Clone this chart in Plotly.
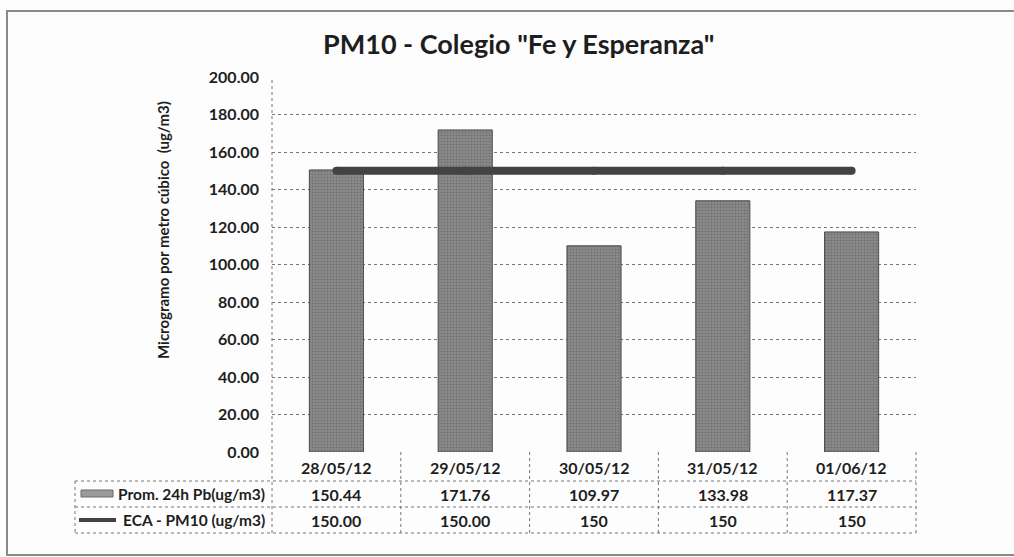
import plotly.graph_objects as go

# ---- data ----
dates = ["28/05/12", "29/05/12", "30/05/12", "31/05/12", "01/06/12"]
prom_24h = [150.44, 171.76, 109.97, 133.98, 117.37]
prom_labels = ["150.44", "171.76", "109.97", "133.98", "117.37"]
eca_pm10 = [150, 150, 150, 150, 150]
eca_labels = ["150.00", "150.00", "150", "150", "150"]
row_names = ["Prom. 24h Pb(ug/m3)", "ECA - PM10 (ug/m3)"]
y_ticks = [0, 20, 40, 60, 80, 100, 120, 140, 160, 180, 200]

# ---- layout geometry (pixels) ----
WIDTH, HEIGHT = 1014, 557
L, R, T, B = 272, 916, 77, 452
PW, PH = R - L, B - T


def px2x(px):
    return (px - L) / PW


def py2y(py):
    return (B - py) / PH


FONT = "Lato, 'Open Sans', sans-serif"
TXT = "#1e1e1e"
GRID = "#767676"

fig = go.Figure()

fig.add_trace(go.Bar(
    x=dates, y=prom_24h, name=row_names[0],
    marker=dict(color="#7a7a7a", line=dict(color="#4a4a4a", width=1),
                pattern=dict(shape=".", fgcolor="#555555", bgcolor="#8a8a8a",
                             size=3, solidity=0.35)),
    showlegend=False, hoverinfo="skip",
))
fig.add_trace(go.Scatter(
    x=dates, y=eca_pm10, name=row_names[1], mode="lines+markers",
    line=dict(color="#434343", width=8),
    marker=dict(color="#434343", size=8, line=dict(width=0)),
    showlegend=False, hoverinfo="skip",
))

shapes = []
ann = []

# outer frame
shapes.append(dict(type="rect", xref="paper", yref="paper",
                   x0=px2x(7), x1=px2x(1020), y0=py2y(555), y1=py2y(11),
                   line=dict(color="#8a8a8a", width=2), layer="below"))
# left axis line (dotted)
shapes.append(dict(type="line", xref="paper", yref="paper",
                   x0=0, x1=0, y0=py2y(533), y1=1,
                   line=dict(color=GRID, width=1, dash="dot")))

# table lines
row_lines = [481, 507, 533]
for py in row_lines:
    shapes.append(dict(type="line", xref="paper", yref="paper",
                       x0=px2x(75), x1=1, y0=py2y(py), y1=py2y(py),
                       line=dict(color=GRID, width=1, dash="dot")))
shapes.append(dict(type="line", xref="paper", yref="paper",
                   x0=px2x(75), x1=px2x(75), y0=py2y(481), y1=py2y(533),
                   line=dict(color=GRID, width=1, dash="dot")))
for i in range(len(dates)):
    xb = px2x(L + PW * (i + 1) / len(dates))
    shapes.append(dict(type="line", xref="paper", yref="paper",
                       x0=xb, x1=xb, y0=0, y1=py2y(533),
                       line=dict(color=GRID, width=1, dash="dot")))

# legend swatches inside the table
shapes.append(dict(type="rect", xref="paper", yref="paper",
                   x0=px2x(81), x1=px2x(113), y0=py2y(497), y1=py2y(490),
                   fillcolor="#9a9a9a", line=dict(color="#6a6a6a", width=1)))
shapes.append(dict(type="line", xref="paper", yref="paper",
                   x0=px2x(79), x1=px2x(116), y0=py2y(520), y1=py2y(520),
                   line=dict(color="#434343", width=4)))

cell_font = dict(family=FONT, size=16, color=TXT, weight="bold")
# table text
for i, d in enumerate(dates):
    for text, py in [(d, 467), (prom_labels[i], 494), (eca_labels[i], 520)]:
        ann.append(dict(x=d, xref="x", y=py2y(py), yref="paper", text=text,
                        xanchor="center", yanchor="middle",
                        showarrow=False, font=cell_font))
for name, py in zip(row_names, [494, 520]):
    ann.append(dict(x=px2x(267), xref="paper", y=py2y(py), yref="paper", text=name,
                    xanchor="right", yanchor="middle", showarrow=False,
                    font=dict(family=FONT, size=15.5, color=TXT, weight="bold")))

# y-axis title
ann.append(dict(x=px2x(163), xref="paper", y=py2y(230), yref="paper",
                text="Microgramo por metro cúbico  (ug/m3)", textangle=-90,
                xanchor="center", yanchor="middle",
                showarrow=False, font=dict(family=FONT, size=15, color=TXT, weight="bold")))
# chart title
ann.append(dict(x=px2x(518), xref="paper", y=py2y(44), yref="paper",
                text='PM10 - Colegio "Fe y Esperanza"', showarrow=False,
                xanchor="center", yanchor="middle",
                font=dict(family=FONT, size=27, color=TXT, weight="bold")))

fig.update_layout(
    width=WIDTH, height=HEIGHT,
    margin=dict(l=L, r=WIDTH - R, t=T, b=HEIGHT - B, autoexpand=False),
    paper_bgcolor="#fdfdfd", plot_bgcolor="#fdfdfd",
    bargap=0.58,
    shapes=shapes, annotations=ann,
    xaxis=dict(type="category", showticklabels=False, showgrid=False,
               zeroline=False, showline=False, ticks="",
               range=[-0.5, len(dates) - 0.5], fixedrange=True),
    yaxis=dict(range=[0, 200], tickvals=y_ticks, tickformat=".2f",
               showgrid=True, gridcolor=GRID, gridwidth=1, griddash="dot",
               zeroline=False, showline=False, ticks="", ticklabelstandoff=12,
               tickfont=dict(family=FONT, size=16, color=TXT, weight="bold"),
               fixedrange=True),
)

fig.write_html("out.html", config={"displayModeBar": False},
               post_script="document.body.style.margin='0';document.body.style.overflow='hidden';")
